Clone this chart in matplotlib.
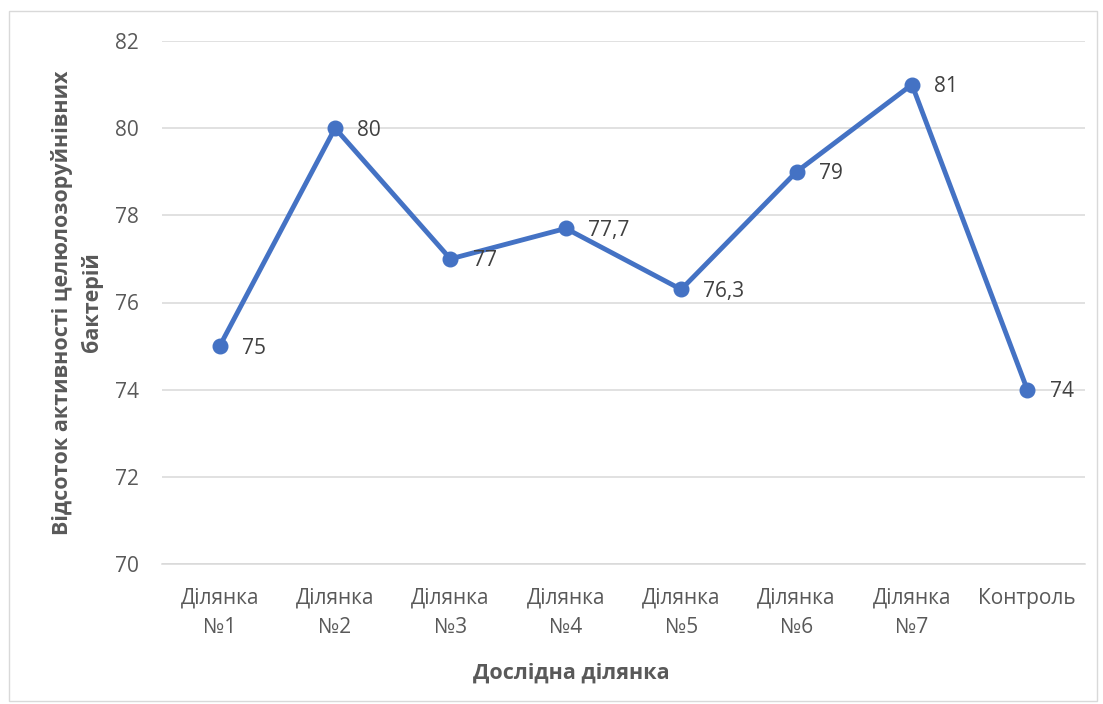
import matplotlib
matplotlib.use("Agg")
import matplotlib.pyplot as plt
from matplotlib.patches import Rectangle

categories = ["Ділянка\n№1", "Ділянка\n№2", "Ділянка\n№3", "Ділянка\n№4",
              "Ділянка\n№5", "Ділянка\n№6", "Ділянка\n№7", "Контроль"]
values = [75, 80, 77, 77.7, 76.3, 79, 81, 74]
value_labels = ["75", "80", "77", "77,7", "76,3", "79", "81", "74"]
y_ticks = [70, 72, 74, 76, 78, 80, 82]

plt.rcParams["font.family"] = ["Open Sans", "DejaVu Sans"]

fig = plt.figure(figsize=(11.03, 7.04), dpi=100)
ax = fig.add_axes([162 / 1103, 1 - 564 / 704, 923 / 1103, 523 / 704])

line_color = "#4472C4"
x = list(range(len(categories)))
ax.plot(x, values, color=line_color, linewidth=3.5, marker="o",
        markersize=10.5, markerfacecolor=line_color, markeredgecolor=line_color,
        solid_joinstyle="round", zorder=3)

for xi, v, lab in zip(x, values, value_labels):
    ax.annotate(lab, (xi, v), xytext=(16, -1.5), textcoords="offset points",
                ha="left", va="center", fontsize=15, color="#404040")

ax.set_xlim(-0.5, len(categories) - 0.5)
ax.set_ylim(70, 82)
ax.set_yticks(y_ticks)
ax.set_yticklabels([str(t) for t in y_ticks])
ax.set_xticks(x)
ax.set_xticklabels(categories, linespacing=1.55)

ax.grid(axis="y", color="#D9D9D9", linewidth=1.1)
ax.set_axisbelow(True)
for side in ["top", "right", "left"]:
    ax.spines[side].set_visible(False)
ax.spines["bottom"].set_color("#D9D9D9")
ax.spines["bottom"].set_linewidth(1.1)
ax.tick_params(axis="both", length=0, labelsize=15, colors="#595959")
ax.tick_params(axis="y", pad=16.5)
ax.tick_params(axis="x", pad=17)

ax.set_xlabel("Дослідна ділянка", fontsize=15.5, fontweight="bold",
              color="#595959", va="center")
ax.xaxis.set_label_coords(0.443, -0.2084)
ax.set_ylabel("Відсоток активності целюлозоруйнівних\nбактерій", fontsize=15.5,
              fontweight="bold", color="#595959", labelpad=8.5, linespacing=1.45)

fig.patches.append(Rectangle((9 / 1103, 3 / 704), 1088 / 1103, 690 / 704,
                             transform=fig.transFigure, fill=False,
                             edgecolor="#D9D9D9", linewidth=1.0))

fig.savefig("out.png", dpi=100)
